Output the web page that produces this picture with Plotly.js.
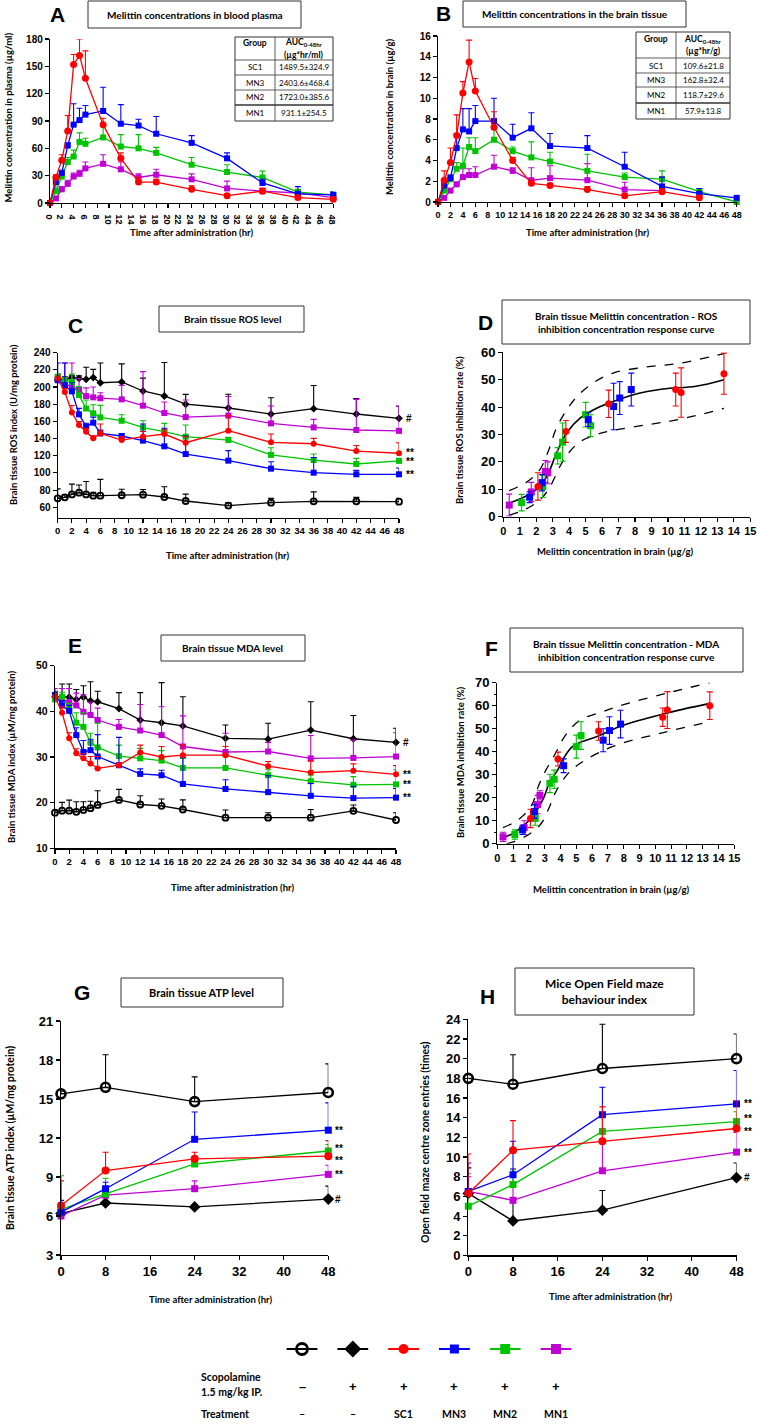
<!DOCTYPE html>
<html><head><meta charset="utf-8">
<script src="https://cdn.plot.ly/plotly-3.0.1.min.js"></script>
<style>html,body{margin:0;padding:0;background:#fff;} #chart{width:761px;height:1424px;}</style>
</head><body><div id="chart"></div>
<script>
// ================= DATA =================
const timesPK = [0,1,2,3,4,5,6,9,12,15,18,24,30,36,42,48];
// A - plasma (µg/ml)
const plasmaSC1 = [0,28,47,79,152,162,137,86,49,23,23,15,8,13,6,4];
const plasmaSC1Err = [0,3,6,17,11,18,30,7,6,5,3,4,2,3,2,2];
const plasmaMN3 = [0,23,33,63,86,91,97,101,87,85,76,66,49,22,10,9];
const plasmaMN3Err = [0,4,3,3,23,13,10,26,21,7,19,8,6,4,8,3];
const plasmaMN2 = [0,13,29,45,51,67,65,72,62,60,55,42,34,28,12,9];
const plasmaMN2Err = [0,7,4,5,7,10,6,14,13,15,6,8,8,7,3,3];
const plasmaMN1 = [0,5,15,21,29,32,38,43,37,28,31,26,16,13,11,6];
const plasmaMN1Err = [0,2,3,4,4,4,7,10,8,4,6,6,8,3,3,2];
// B - brain (µg/g)
const brainSC1 = [0,2.1,3.8,6.4,10.5,13.5,10.7,7.2,4.0,1.8,1.6,1.2,0.6,1.0,0.4,null];
const brainSC1Err = [0,0.9,1.4,2.0,1.1,2.1,1.2,1.5,0.3,0.3,0.2,0.3,0.2,0.3,0.2,0];
const brainMN3 = [0,1.6,2.3,5.2,7.0,6.8,7.8,7.8,6.2,7.1,5.4,5.2,3.4,1.5,0.8,0.4];
const brainMN3Err = [0,0.3,0.3,1.4,2.0,2.2,1.5,2.2,1.3,1.5,1.2,1.2,1.4,0.9,0.5,0.1];
const brainMN2 = [0,1.1,2.2,3.2,3.5,5.3,4.9,6.0,4.9,4.3,3.9,3.0,2.4,2.2,1.0,0.0];
const brainMN2Err = [0,0.3,0.4,0.6,1.7,0.9,1.3,1.0,0.4,1.5,0.9,1.6,0.4,0.8,0.3,0];
const brainMN1 = [0,0.4,1.1,1.7,2.4,2.6,2.6,3.4,3.0,2.1,2.3,2.1,1.2,1.1,null,null];
const brainMN1Err = [0,0.2,0.2,0.2,0.8,0.6,0.8,1.1,0.3,1.2,1.2,1.6,0.7,0.2,0,0];
// AUC tables
const tableGroups = ['SC1','MN3','MN2','MN1'];
const aucPlasma = ['1489.5±324.9','2403.6±468.4','1723.0±385.6','931.1±254.5'];
const aucBrain = ['109.6±21.8','162.8±32.4','118.7±29.6','57.9±13.8'];
// C - ROS (U/mg protein)
const rosControl = [70.4,71.6,75,77,75,73.5,73.5,74,74.7,72,67.3,62,65.4,67,67,66.5];
const rosControlErr = [11,3,12,9,15,4,19,7,6,12,8,3.4,5,11,4.6,4];
const rosScop = [208,209,211,210,209,211,205,206,195.4,189.6,180,175.6,168.6,174.8,168.6,163.6];
const rosScopErr = [3,3,2,3,14,9.6,23,21,15,39,11.5,16,19,27,18,14];
const rosMN1 = [210,204,200,196.5,189.5,188,187,185.7,178.3,169.8,165,166.7,157.7,153,150,149];
const rosMN1Err = [5,24,28,13.5,9.5,12,6.4,16.3,39.7,12.8,20,22.3,20.3,9.4,35.7,28.8];
const rosMN2 = [212,208,206,190.7,175,169.4,164.7,160.8,152.7,148,142.2,138.3,121,115,110.4,114];
const rosMN2Err = [3,3,9,10,10,10,14,7,8,9.7,13.6,3.1,8.4,7,6.6,3];
const rosSC1 = [210,194.2,170.5,155.8,148,140.3,146,138.3,142.2,145.3,135.2,149.2,135.6,134,125.5,122.9];
const rosSC1Err = [3,4,8,4,4,3,11,4,6,5,7,17.5,9.7,6.3,6.5,12.3];
const rosMN3 = [208,202,195,168.2,153.9,158.5,146,143,137.6,131,122,114.3,105,100.3,98.4,98.4];
const rosMN3Err = [20,26,10,7,4,6.5,4,3,19.4,21,21,11.7,8,17.7,4.6,7.4];
// D - ROS inhibition vs brain melittin
const dRosSC1X = [2.1,3.8,6.4,10.47,10.8,13.4];
const dRosSC1Y = [11,31.1,41.2,46.4,45.3,52.2];
const dRosSC1E = [5,4,5,6,9,7.5];
const dRosMN3X = [1.6,2.35,5.16,6.7,7.07,7.77];
const dRosMN3Y = [7.1,12.4,35.4,40.2,43.3,46.4];
const dRosMN3E = [2,3,2.5,8.5,6,6];
const dRosMN2X = [1.11,2.4,3.3,3.6,5.0,5.3];
const dRosMN2Y = [5.1,11,22.2,27.2,37.2,33.2];
const dRosMN2E = [3,4,3,7,4.5,4];
const dRosMN1X = [0.36,1.7,2.55,2.7];
const dRosMN1Y = [4.2,9,16.5,16];
const dRosMN1E = [4,3.5,4,4];
const dRosFitX = [0.36,1,1.5,2.02,2.63,3.24,3.85,4.66,5.67,6.68,7.9,9.7,11.7,13.4];
const dRosFitY = [4.9,6.4,7.9,9.9,14.5,23.3,30.6,36,39.6,42,44.5,46.6,47.6,50];
const dRosUpX = [0.36,1.4,2.2,2.8,3.2,3.8,4.5,5.5,6.7,8.5,10.7,13.4];
const dRosUpY = [9.5,12.5,17,25,32,38.5,44,49,52.5,54.5,56,59.5];
const dRosLoX = [0.36,1,1.6,2.2,2.7,3.1,3.5,4,4.7,5.7,6.7,8.7,10.7,13.4];
const dRosLoY = [0.5,1.8,3.5,6,9.5,14,19,23.5,27.5,30,31.5,33.5,35.5,39.5];
// E - MDA (µM/mg protein)
const mdaControl = [17.8,18.25,18.25,18,18.4,18.8,19.5,20.6,19.6,19.3,18.5,16.7,16.7,16.7,18.2,16.2];
const mdaControlErr = [0.5,1.8,2.3,2.2,1.8,1.5,3.1,2.3,1.9,1.5,2.1,1.7,1.1,1.8,1.3,1.6];
const mdaScop = [43.2,43.2,43.1,42.6,43.1,42.3,42.1,40.6,38.1,37.5,36.8,34.1,33.9,35.9,34,33.2];
const mdaScopErr = [0.5,2.8,2.9,2.2,2.5,4.2,2.3,3.5,6,8.8,6.4,2.9,3.5,6.2,5.1,3.1];
const mdaMN1 = [43.5,42.6,42,41.3,39.9,39.2,38.1,36.6,35.8,34.8,32.3,31.1,31.2,29.7,29.8,30.1];
const mdaMN1Err = [1.5,2.4,3,2.7,3.7,2.8,2.6,1.6,5.7,6.2,6.7,4.1,2,5,3.9,5.2];
const mdaMN2 = [42.6,43.2,40.7,37.5,36.6,33.1,32.1,30.2,29.7,29.2,27.6,27.6,26,24.7,23.9,24];
const mdaMN2Err = [0.5,1,1,2.2,3.1,2.1,5.3,2.4,2.2,2.2,2.1,2.5,1.2,1.3,1.8,3.2];
const mdaSC1 = [43.2,39.7,34.1,30.8,29.7,28.6,27.5,28.2,31,30,30.4,30.4,28,26.6,27,26.2];
const mdaSC1Err = [0.8,1.3,1.2,1,1,1.5,2.6,0.4,1.6,2.3,2.2,1.9,1,2.5,1.5,1.9];
const mdaMN3 = [43.6,41.3,40.1,34.8,31.1,31.5,30.1,28.2,26.3,26,24.1,23,22.3,21.5,21,21.1];
const mdaMN3Err = [0.8,1,1.2,1.6,2.5,2.4,4.8,6.1,1.1,1.1,5.8,2,3.6,2.7,2.6,2];
// F - MDA inhibition vs brain melittin
const dMdaSC1X = [2.1,3.84,6.41,10.47,10.76,13.45];
const dMdaSC1Y = [11,36.8,49,55,58.1,60];
const dMdaSC1E = [4,3,4,4,8,6];
const dMdaMN3X = [1.6,2.35,4.2,6.7,7.1,7.8];
const dMdaMN3Y = [6,14,33.9,45,49.2,52];
const dMdaMN3E = [2,3,3,5,6,6];
const dMdaMN2X = [1.11,2.4,3.33,3.6,5.0,5.3];
const dMdaMN2Y = [4,11,26.2,28,42.2,47];
const dMdaMN2E = [2,3,4,4,5,6];
const dMdaMN1X = [0.36,1.7,2.55,2.7];
const dMdaMN1Y = [3,7,17,21];
const dMdaMN1E = [2,3,4,2];
const dMdaFitX = [0.36,1,1.5,2,2.5,2.92,3.33,3.82,4.18,4.7,5.23,6.28,7.76,10.5,13.45];
const dMdaFitY = [2.5,4.5,7,10,14.5,19.7,27,32,37,41.9,44,46.5,51,56.4,61];
const dMdaUpX = [0.36,1,1.6,2.2,2.6,3.0,3.66,4.3,5.23,6.5,7.76,10.7,13.45];
const dMdaUpY = [7,9,12,17,25,31,39,47,53.7,57,60,65.4,70];
const dMdaLoX = [0.6,1,1.6,2.2,2.8,3.3,3.66,4.5,5.55,7.45,10.5,13.45];
const dMdaLoY = [0,0.8,2.5,5,9,16,22,30.7,36.3,42.6,48.3,53];
// G - ATP (µM/mg protein)
const timesBeh = [0,8,24,48];
const atpControl = [15.4,15.9,14.8,15.5];
const atpControlErr = [0.2,2.5,1.9,2.2];
const atpScop = [6.2,7.0,6.7,7.3];
const atpScopErr = [0.5,0,0,1.0];
const atpSC1 = [6.8,9.5,10.4,10.6];
const atpSC1Err = [1.9,1.4,0.5,1.2];
const atpMN3 = [6.3,8.1,11.9,12.6];
const atpMN3Err = [0.9,0.5,2.1,2.1];
const atpMN2 = [6.5,7.7,10.0,11.0];
const atpMN2Err = [2.6,1.2,0.4,0.5];
const atpMN1 = [6.0,7.6,8.1,9.2];
const atpMN1Err = [0.5,0.5,0.6,0.7];
// H - open field centre entries (times)
const ofControl = [18.0,17.4,19.0,20.0];
const ofControlErr = [0,3.0,4.5,2.5];
const ofScop = [6.3,3.5,4.6,7.9];
const ofScopErr = [2.6,1.9,2.0,1.5];
const ofSC1 = [6.3,10.7,11.6,12.9];
const ofSC1Err = [4.0,3.0,3.5,2.8];
const ofMN3 = [6.5,8.2,14.3,15.4];
const ofMN3Err = [2.9,3.4,2.8,3.4];
const ofMN2 = [5.0,7.2,12.6,13.6];
const ofMN2Err = [3.3,1.5,1.5,1.0];
const ofMN1 = [6.5,5.6,8.6,10.5];
const ofMN1Err = [1.5,3.2,3.0,2.0];
// legend rows
const legendGroups = ['Control','Scopolamine','SC1','MN3','MN2','MN1'];
const scopolamineSigns = ['–','+','+','+','+','+'];
const treatmentLabels = ['–','–','SC1','MN3','MN2','MN1'];

// ================= STYLE / HELPERS =================
const W = 761, H = 1424;
const px = v => v / W;
const py = v => 1 - v / H;
const RED='#ff0000', BLUE='#0000ff', GREEN='#00c400', MAG='#c000d6', BLK='#000000';
const TXT = 'Lato, "Open Sans", sans-serif';
const TICK = 'Liberation Sans, Arial, sans-serif';

function xax(l, r, range, dtick, size, anchor, extra) {
  return Object.assign({domain:[px(l), px(r)], range, dtick, tick0:0, anchor,
    showline:true, linecolor:'#000', linewidth:1.2, ticks:'outside', ticklen:4, tickwidth:1.1, tickcolor:'#000',
    showgrid:false, zeroline:false, fixedrange:true,
    tickfont:{family:TICK, size, color:'#000', weight:'bold'}}, extra || {});
}
function yax(top, bottom, range, dtick, size, anchor, extra) {
  return Object.assign({domain:[py(bottom), py(top)], range, dtick, tick0:0, anchor,
    showline:true, linecolor:'#000', linewidth:1.2, ticks:'outside', ticklen:4, tickwidth:1.1, tickcolor:'#000',
    showgrid:false, zeroline:false, fixedrange:true,
    tickfont:{family:TICK, size, color:'#000', weight:'bold'}}, extra || {});
}
function series(xa, ya, x, y, err, color, symbol, size, lw) {
  const open = symbol.indexOf('open') >= 0;
  return {type:'scatter', mode:'lines+markers', xaxis:xa, yaxis:ya, x, y, cliponaxis:false,
    hoverinfo:'skip', showlegend:false,
    line:{color, width:1.3},
    marker:{color: color, symbol, size, line:{color, width: open ? (lw || 2) : 0}},
    error_y:{type:'data', symmetric:false, array:err, arrayminus:err.map(() => 0),
      color, thickness:1.1, width:3}};
}
function points(xa, ya, x, y, err, color, symbol) {
  return {type:'scatter', mode:'markers', xaxis:xa, yaxis:ya, x, y, cliponaxis:false,
    hoverinfo:'skip', showlegend:false, marker:{color, symbol, size:7},
    error_y:{type:'data', symmetric:true, array:err, color, thickness:1.1, width:3}};
}
function curve(xa, ya, x, y, dashed) {
  return {type:'scatter', mode:'lines', xaxis:xa, yaxis:ya, x, y, hoverinfo:'skip', showlegend:false,
    line:{color:'#000', width: dashed ? 1.3 : 1.6, dash: dashed ? 'dash' : 'solid', shape:'spline', smoothing:1}};
}

const traces = [];
// A
traces.push(series('x','y',timesPK,plasmaMN1,plasmaMN1Err,MAG,'square',6));
traces.push(series('x','y',timesPK,plasmaMN2,plasmaMN2Err,GREEN,'square',6));
traces.push(series('x','y',timesPK,plasmaMN3,plasmaMN3Err,BLUE,'square',6));
traces.push(series('x','y',timesPK,plasmaSC1,plasmaSC1Err,RED,'circle',7));
// B
traces.push(series('x2','y2',timesPK,brainMN1,brainMN1Err,MAG,'square',6));
traces.push(series('x2','y2',timesPK,brainMN2,brainMN2Err,GREEN,'square',6));
traces.push(series('x2','y2',timesPK,brainMN3,brainMN3Err,BLUE,'square',6));
traces.push(series('x2','y2',timesPK,brainSC1,brainSC1Err,RED,'circle',7));
// C
traces.push(series('x3','y3',timesPK,rosControl,rosControlErr,BLK,'circle-open',6,1.8));
traces.push(series('x3','y3',timesPK,rosScop,rosScopErr,BLK,'diamond',6));
traces.push(series('x3','y3',timesPK,rosMN1,rosMN1Err,MAG,'square',6));
traces.push(series('x3','y3',timesPK,rosMN2,rosMN2Err,GREEN,'square',6));
traces.push(series('x3','y3',timesPK,rosMN3,rosMN3Err,BLUE,'square',6));
traces.push(series('x3','y3',timesPK,rosSC1,rosSC1Err,RED,'circle',6));
// D
traces.push(curve('x4','y4',dRosUpX,dRosUpY,true));
traces.push(curve('x4','y4',dRosLoX,dRosLoY,true));
traces.push(curve('x4','y4',dRosFitX,dRosFitY,false));
traces.push(points('x4','y4',dRosMN1X,dRosMN1Y,dRosMN1E,MAG,'square'));
traces.push(points('x4','y4',dRosMN2X,dRosMN2Y,dRosMN2E,GREEN,'square'));
traces.push(points('x4','y4',dRosMN3X,dRosMN3Y,dRosMN3E,BLUE,'square'));
traces.push(points('x4','y4',dRosSC1X,dRosSC1Y,dRosSC1E,RED,'circle'));
// E
traces.push(series('x5','y5',timesPK,mdaControl,mdaControlErr,BLK,'circle-open',6,1.8));
traces.push(series('x5','y5',timesPK,mdaScop,mdaScopErr,BLK,'diamond',6));
traces.push(series('x5','y5',timesPK,mdaMN1,mdaMN1Err,MAG,'square',6));
traces.push(series('x5','y5',timesPK,mdaMN2,mdaMN2Err,GREEN,'square',6));
traces.push(series('x5','y5',timesPK,mdaMN3,mdaMN3Err,BLUE,'square',6));
traces.push(series('x5','y5',timesPK,mdaSC1,mdaSC1Err,RED,'circle',6));
// F
traces.push(curve('x6','y6',dMdaUpX,dMdaUpY,true));
traces.push(curve('x6','y6',dMdaLoX,dMdaLoY,true));
traces.push(curve('x6','y6',dMdaFitX,dMdaFitY,false));
traces.push(points('x6','y6',dMdaMN1X,dMdaMN1Y,dMdaMN1E,MAG,'square'));
traces.push(points('x6','y6',dMdaMN2X,dMdaMN2Y,dMdaMN2E,GREEN,'square'));
traces.push(points('x6','y6',dMdaMN3X,dMdaMN3Y,dMdaMN3E,BLUE,'square'));
traces.push(points('x6','y6',dMdaSC1X,dMdaSC1Y,dMdaSC1E,RED,'circle'));
// G
traces.push(series('x7','y7',timesBeh,atpControl,atpControlErr,BLK,'circle-open',9,2.6));
traces.push(series('x7','y7',timesBeh,atpScop,atpScopErr,BLK,'diamond',9));
traces.push(series('x7','y7',timesBeh,atpMN1,atpMN1Err,MAG,'square',7));
traces.push(series('x7','y7',timesBeh,atpMN2,atpMN2Err,GREEN,'square',7));
traces.push(series('x7','y7',timesBeh,atpMN3,atpMN3Err,BLUE,'square',7));
traces.push(series('x7','y7',timesBeh,atpSC1,atpSC1Err,RED,'circle',8));
// H
traces.push(series('x8','y8',timesBeh,ofControl,ofControlErr,BLK,'circle-open',9,2.6));
traces.push(series('x8','y8',timesBeh,ofScop,ofScopErr,BLK,'diamond',9));
traces.push(series('x8','y8',timesBeh,ofMN1,ofMN1Err,MAG,'square',7));
traces.push(series('x8','y8',timesBeh,ofMN2,ofMN2Err,GREEN,'square',7));
traces.push(series('x8','y8',timesBeh,ofMN3,ofMN3Err,BLUE,'square',7));
traces.push(series('x8','y8',timesBeh,ofSC1,ofSC1Err,RED,'circle',8));
// Legend keys: a short line (line-ew symbol) with the group's marker on top
const legendStyles = [
  {color:BLK, symbol:'circle-open', size:11, lw:2.8},
  {color:BLK, symbol:'diamond', size:13, lw:0},
  {color:RED, symbol:'circle', size:10, lw:0},
  {color:BLUE, symbol:'square', size:9, lw:0},
  {color:GREEN, symbol:'square', size:10, lw:0},
  {color:MAG, symbol:'square', size:10, lw:0}
];
legendGroups.forEach((g, i) => {
  const s = legendStyles[i];
  traces.push({type:'scatter', mode:'markers', xaxis:'x9', yaxis:'y9', x:[g], y:[0], cliponaxis:false,
    hoverinfo:'skip', showlegend:false,
    marker:{symbol:'line-ew', size:22, color:s.color, line:{color:s.color, width:2}}});
  traces.push({type:'scatter', mode:'markers', xaxis:'x9', yaxis:'y9', x:[g], y:[0], cliponaxis:false,
    hoverinfo:'skip', showlegend:false,
    marker:{color:s.color, symbol:s.symbol, size:s.size, line:{color:s.color, width:s.lw}}});
});

// ================= LAYOUT =================
const shapes = [];
const annotations = [];
function box(l, t, r, b) {
  shapes.push({type:'rect', xref:'paper', yref:'paper', x0:px(l), x1:px(r), y0:py(b), y1:py(t),
    line:{color:'#333', width:1}, fillcolor:'rgba(0,0,0,0)'});
}
function hline(l, r, y, w) {
  shapes.push({type:'line', xref:'paper', yref:'paper', x0:px(l), x1:px(r), y0:py(y), y1:py(y), line:{color:'#333', width:w || 0.8}});
}
function vline(x, t, b, w) {
  shapes.push({type:'line', xref:'paper', yref:'paper', x0:px(x), x1:px(x), y0:py(b), y1:py(t), line:{color:'#333', width:w || 0.8}});
}
function text(x, y, t, size, opts) {
  annotations.push(Object.assign({xref:'paper', yref:'paper', x:px(x), y:py(y), text:t, showarrow:false,
    xanchor:'center', yanchor:'middle',
    font:{family:TXT, size, color:'#000', weight:'bold'}}, opts || {}));
}
function letter(x, y, t, size) {
  text(x, y, t, size, {font:{family:TICK, size, color:'#000', weight:'bold'}});
}

// Panel letters
letter(57.5, 15, 'A', 21); letter(443, 14, 'B', 21);
letter(75, 325, 'C', 21); letter(486, 322, 'D', 21);
letter(75, 645, 'E', 21); letter(491.5, 648, 'F', 21);
letter(82, 992, 'G', 21); letter(487, 996, 'H', 21);

// Title boxes
box(88, 1, 301, 28); text(195, 15, 'Melittin concentrations in blood plasma', 10);
box(463, 1, 686, 27); text(575, 14, 'Melittin concentrations in the brain tissue', 10);
box(159, 306, 304, 332); text(232, 319, 'Brain tissue ROS level', 10);
box(502, 300, 750, 344); text(626, 322, 'Brain tissue Melittin concentration - ROS<br>inhibition concentration response curve', 10);
box(161, 635, 305, 661); text(233, 648, 'Brain tissue MDA level', 10);
box(510, 628, 743, 672); text(626, 650, 'Brain tissue Melittin concentration - MDA<br>inhibition concentration response curve', 10);
box(121, 978, 283, 1007); text(202, 992.5, 'Brain tissue ATP level', 11);
box(515, 968, 694, 1015); text(604, 991, 'Mice Open Field maze<br>behaviour index', 12);

// Axis titles
const rot = {textangle:-90};
text(8, 117.5, 'Melittin concentration in plasma (µg/ml)', 9.5, rot);
text(192, 232, 'Time after administration (hr)', 9.5);
text(390, 117, 'Melittin concentration in brain (µg/g)', 9.5, rot);
text(587, 232, 'Time after administration (hr)', 9.5);
text(13, 425, 'Brain tissue ROS index (U/mg protein)', 9.5, rot);
text(227, 555, 'Time after administration (hr)', 9.5);
text(460, 430, 'Brain tissue ROS inhibition rate (%)', 9.5, rot);
text(615, 551, 'Melittin concentration in brain (µg/g)', 9.5);
text(11, 757, 'Brain tissue MDA index (µM/mg protein)', 9.5, rot);
text(232, 887, 'Time after administration (hr)', 9.5);
text(460, 763, 'Brain tissue MDA inhibition rate (%)', 9.5, rot);
text(611, 889, 'Melittin concentration in brain (µg/g)', 9.5);
text(10, 1138, 'Brain tissue ATP index (µM/mg protein)', 10.5, rot);
text(210, 1299, 'Time after administration (hr)', 9.5);
text(425, 1142, 'Open field maze centre zone entries (times)', 10.5, rot);
text(610, 1296, 'Time after administration (hr)', 9.5);

// AUC tables
function aucTable(l, r, colX, rows, headTop, unit, values) {
  box(l, rows[0], r, rows[rows.length - 1]);
  vline(colX, rows[0], rows[rows.length - 1]);
  for (let i = 1; i < rows.length - 1; i++) hline(l, r, rows[i], i === rows.length - 2 ? 1.4 : 0.8);
  const c1 = (l + colX) / 2, c2 = (colX + r) / 2;
  text(c1, headTop + 6, 'Group', 8.5);
  text(c2, headTop + 6, 'AUC<sub>0-48hr</sub>', 8.5);
  text(c2, headTop + 18, unit, 8.5);
  tableGroups.forEach((g, i) => {
    const yc = (rows[i + 1] + rows[i + 2]) / 2;
    text(c1, yc, g, 8, {font:{family:TXT, size:8, color:'#000', weight:'normal'}});
    text(c2, yc, values[i], 8, {font:{family:TXT, size:8, color:'#000', weight:'normal'}});
  });
}
aucTable(235, 333, 275, [37, 60, 75, 90, 105, 121], 37, '(µg*hr/ml)', aucPlasma);
aucTable(636, 730, 676, [32, 58, 73, 87, 103, 119], 33, '(µg*hr/g)', aucBrain);

// Significance marks at 48 h
function sig(xa, ya, yv, t, yshift) {
  annotations.push({xref:xa, yref:ya, x:48, y:yv, text:t, showarrow:false, xanchor:'left', yanchor:'middle',
    xshift:5, yshift:yshift || 0, font:{family:TICK, size:10, color:'#000', weight:'bold'}});
}
const last = a => a[a.length - 1];
sig('x3','y3', last(rosScop), '#');
sig('x3','y3', last(rosSC1), '**', 1);
sig('x3','y3', last(rosMN2), '**', -1);
sig('x3','y3', last(rosMN3), '**');
sig('x5','y5', last(mdaScop), '#');
sig('x5','y5', last(mdaSC1), '**');
sig('x5','y5', last(mdaMN2), '**');
sig('x5','y5', last(mdaMN3), '**');
sig('x7','y7', last(atpMN3), '**');
sig('x7','y7', last(atpMN2), '**', 3);
sig('x7','y7', last(atpSC1), '**', -4);
sig('x7','y7', last(atpMN1), '**');
sig('x7','y7', last(atpScop), '#');
sig('x8','y8', last(ofMN3), '**');
sig('x8','y8', last(ofMN2), '**', 3);
sig('x8','y8', last(ofSC1), '**', -3);
sig('x8','y8', last(ofMN1), '**');
sig('x8','y8', last(ofScop), '#');

// Legend rows
text(199, 1377, 'Scopolamine', 10.5, {xanchor:'left'});
text(199, 1392, '1.5 mg/kg IP.', 10.5, {xanchor:'left'});
text(199, 1414, 'Treatment', 10.5, {xanchor:'left'});
legendGroups.forEach((g, i) => {
  annotations.push({xref:'x9', yref:'paper', x:g, y:py(1386), text:scopolamineSigns[i], showarrow:false,
    xanchor:'center', yanchor:'middle', font:{family:TICK, size:13, color:'#000', weight:'bold'}});
  annotations.push({xref:'x9', yref:'paper', x:g, y:py(1414), text:treatmentLabels[i], showarrow:false,
    xanchor:'center', yanchor:'middle', font:{family:TXT, size: 10.5, color:'#000', weight:'bold'}});
});

const layout = {
  width:W, height:H, margin:{l:0, r:0, t:0, b:0}, paper_bgcolor:'#fff', plot_bgcolor:'rgba(0,0,0,0)',
  showlegend:false, font:{family:TXT, color:'#000'},
  xaxis:  xax(50, 333.3, [0,48], 2, 9, 'y'),
  yaxis:  yax(39, 203, [0,180], 30, 10, 'x'),
  xaxis2: xax(438, 736.7, [0,48], 2, 9, 'y2'),
  yaxis2: yax(36, 202, [0,16], 2, 10, 'x2'),
  xaxis3: xax(57.7, 399, [0,48], 2, 9.5, 'y3'),
  yaxis3: yax(352.7, 517.6, [48,240], 20, 10, 'x3'),
  xaxis4: xax(503.3, 750.3, [0,15], 1, 11, 'y4'),
  yaxis4: yax(352.3, 516.6, [0,60], 10, 13, 'x4'),
  xaxis5: xax(55, 396, [0,48], 2, 9.5, 'y5'),
  yaxis5: yax(665.7, 848.3, [10,50], 10, 10.5, 'x5'),
  xaxis6: xax(497.3, 734.3, [0,15], 1, 11, 'y6'),
  yaxis6: yax(682.7, 843.7, [0,70], 10, 13, 'x6', {minor:{dtick:5, ticklen:2, tickwidth:1, tickcolor:'#000', ticks:'outside'}}),
  xaxis7: xax(61, 328.3, [0,48], 8, 13, 'y7'),
  yaxis7: yax(1021, 1255, [3,21], 3, 13, 'x7'),
  xaxis8: xax(468.3, 736.5, [0,48], 8, 13, 'y8'),
  yaxis8: yax(1019.3, 1255.4, [0,24], 2, 13, 'x8'),
  xaxis9: {domain:[px(276.6), px(581.4)], type:'category', categoryorder:'array', categoryarray:legendGroups,
           range:[-0.5, 5.5], visible:false, fixedrange:true, anchor:'y9'},
  yaxis9: {domain:[py(1354), py(1344)], range:[-1, 1], visible:false, fixedrange:true, anchor:'x9'},
  shapes, annotations
};

Plotly.newPlot('chart', traces, layout, {displayModeBar:false, staticPlot:true});
</script>
</body></html>
